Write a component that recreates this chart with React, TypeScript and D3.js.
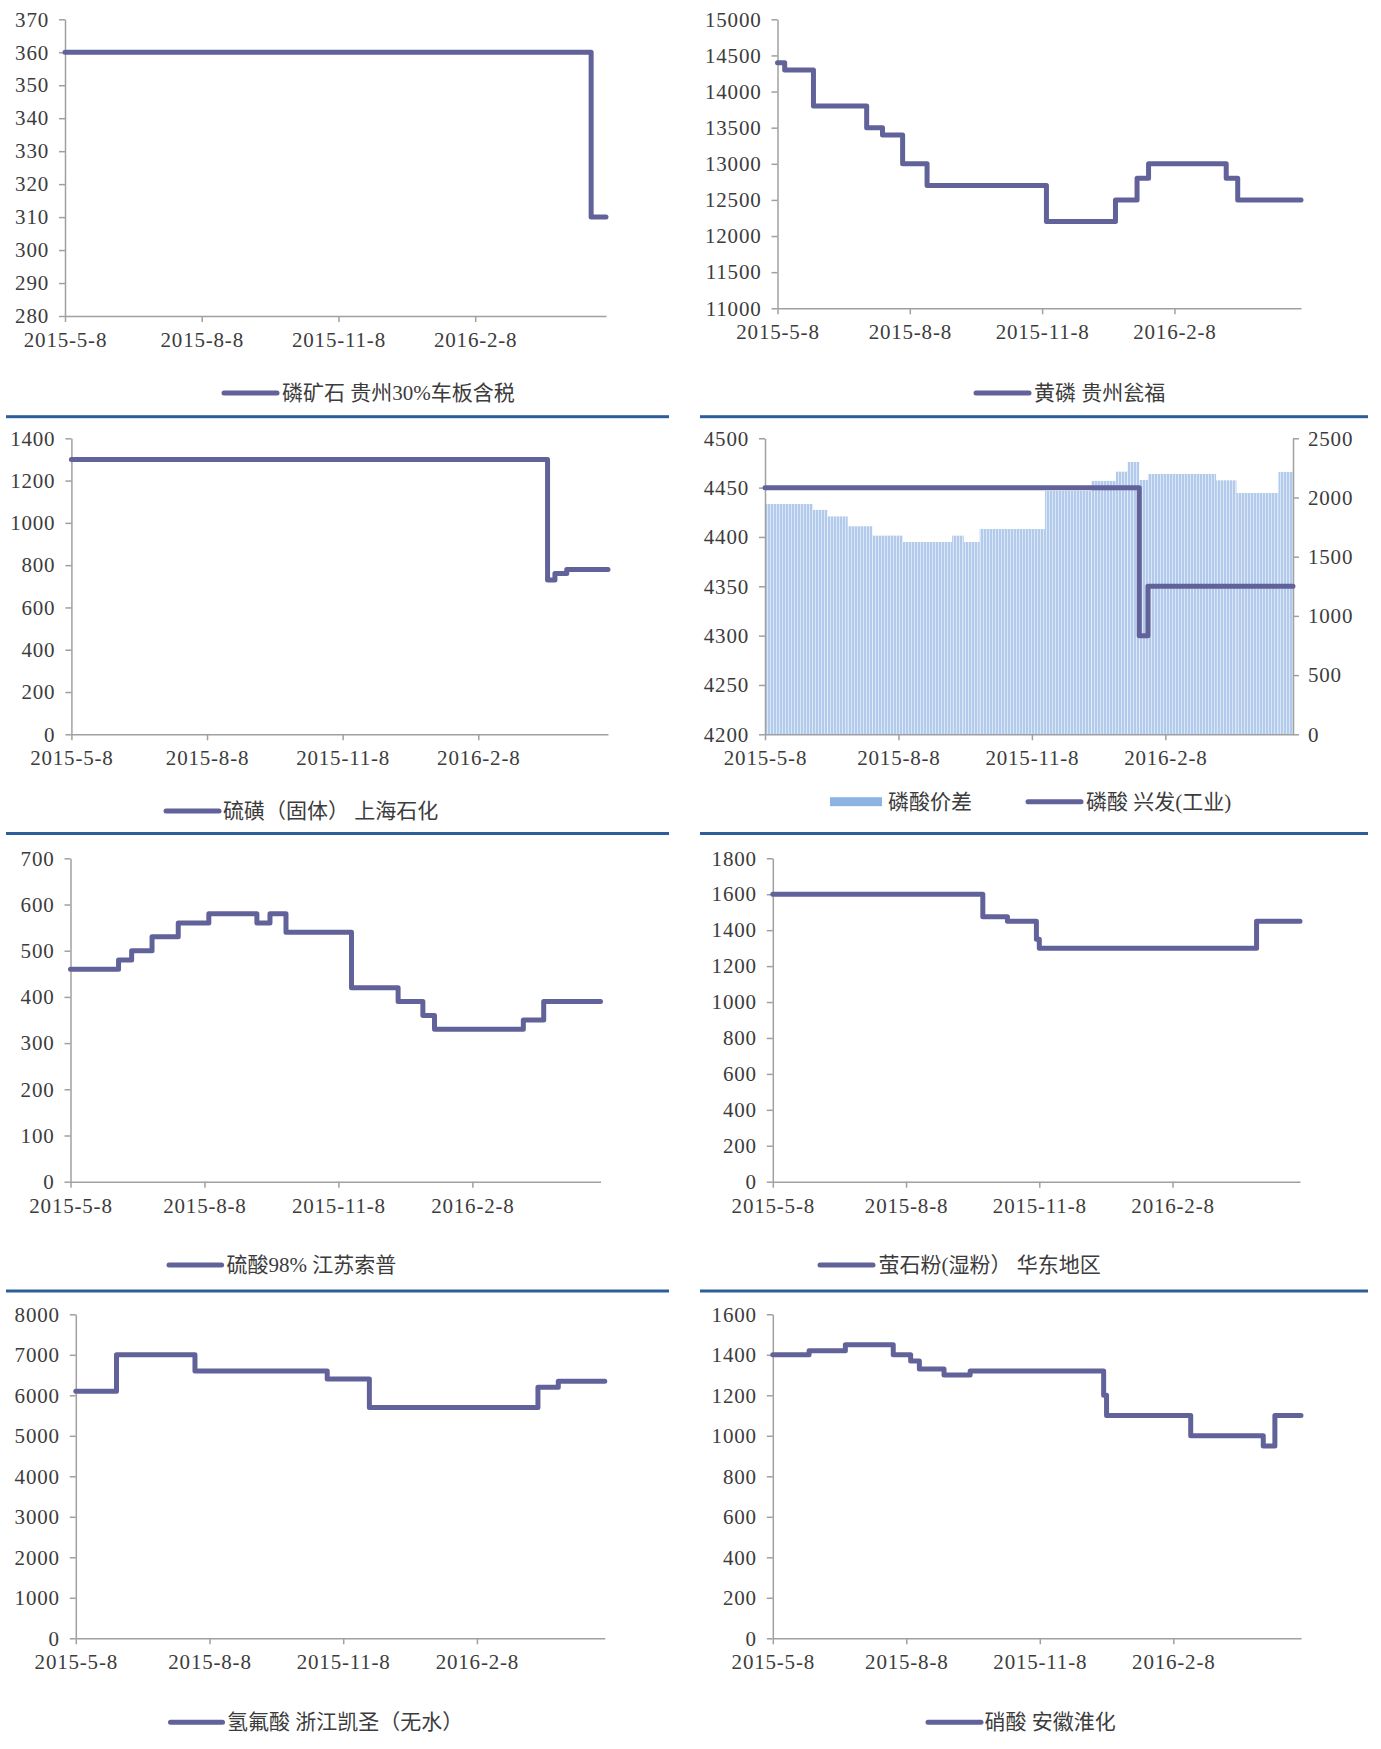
import React, { useEffect, useRef } from "react";
import * as d3 from "d3";

const START = "2015-05-08";
const END = "2016-05-06";
const xTickDates = ["2015-05-08", "2015-08-08", "2015-11-08", "2016-02-08"];
const xTickLabels = ["2015-5-8", "2015-8-8", "2015-11-8", "2016-2-8"];

// 磷矿石 贵州30%车板含税
const rockDates = ["2015-05-08", "2016-04-26", END];
const rockValues = [360, 310, 310];

// 黄磷 贵州瓮福
const yellowPDates = [
  "2015-05-08", "2015-05-13", "2015-06-02", "2015-07-09", "2015-07-20",
  "2015-08-03", "2015-08-20", "2015-11-11", "2015-12-29", "2016-01-13",
  "2016-01-21", "2016-03-15", "2016-03-23", END,
];
const yellowPValues = [
  14400, 14300, 13800, 13500, 13400, 13000, 12700, 12200, 12500, 12800,
  13000, 12800, 12500, 12500,
];

// 硫磺（固体） 上海石化
const sulfurDates = ["2015-05-08", "2016-03-26", "2016-03-31", "2016-04-08", END];
const sulfurValues = [1300, 730, 760, 780, 780];

// 磷酸 兴发(工业)
const acidDates = ["2015-05-08", "2016-01-21", "2016-01-27", END];
const acidValues = [4450, 4300, 4350, 4350];

// 磷酸价差 (bars, right axis)
const spreadDates = [
  "2015-05-08", "2015-06-10", "2015-06-20", "2015-07-04", "2015-07-21",
  "2015-08-11", "2015-09-14", "2015-09-22", "2015-10-03", "2015-11-17",
  "2015-12-19", "2016-01-05", "2016-01-13", "2016-01-21", "2016-01-27",
  "2016-03-14", "2016-03-28", "2016-04-26",
];
const spreadValues = [
  1945, 1895, 1840, 1757, 1678, 1624, 1678, 1624, 1734, 2055,
  2140, 2218, 2300, 2148, 2199, 2145, 2038, 2216,
];

// 硫酸98% 江苏索普
const h2so4Dates = [
  "2015-05-08", "2015-06-10", "2015-06-19", "2015-07-03", "2015-07-21",
  "2015-08-11", "2015-09-13", "2015-09-22", "2015-10-03", "2015-11-17",
  "2015-12-19", "2016-01-05", "2016-01-13", "2016-03-14", "2016-03-28", END,
];
const h2so4Values = [
  460, 480, 500, 530, 560, 580, 560, 580, 540, 420, 390, 360, 330, 350, 390, 390,
];

// 萤石粉(湿粉） 华东地区
const fluorDates = ["2015-05-08", "2015-09-30", "2015-10-17", "2015-11-06", "2015-11-08", "2016-04-06", END];
const fluorValues = [1600, 1475, 1450, 1350, 1300, 1450, 1450];

// 氢氟酸 浙江凯圣（无水）
const hfDates = ["2015-05-08", "2015-06-05", "2015-07-29", "2015-10-28", "2015-11-26", "2016-03-21", "2016-04-04", END];
const hfValues = [6100, 7000, 6600, 6400, 5700, 6200, 6350, 6350];

// 硝酸 安徽淮化
const hno3Dates = [
  "2015-05-08", "2015-06-02", "2015-06-27", "2015-07-30", "2015-08-11",
  "2015-08-17", "2015-09-03", "2015-09-21", "2015-12-22", "2015-12-24",
  "2016-02-20", "2016-04-10", "2016-04-18", END,
];
const hno3Values = [1400, 1420, 1450, 1400, 1370, 1330, 1300, 1320, 1200, 1100, 1000, 950, 1100, 1100];

const LINE_COLOR = "#62629b";
const AXIS_COLOR = "#a0a0a0";
const TEXT_COLOR = "#3c3c3c";
const SEP_COLOR = "#2d5e9a";
const FONT = "'Liberation Serif', 'Noto Sans CJK SC', serif";

const panels = [
  { dates: rockDates, values: rockValues, yMin: 280, yMax: 370, yStep: 10,
    left: 65, right: 606, top: 19.3, bottom: 316,
    legend: "磷矿石 贵州30%车板含税", lx: 224, lx2: 277, tx: 282, ly: 393 },
  { dates: yellowPDates, values: yellowPValues, yMin: 11000, yMax: 15000, yStep: 500,
    left: 777.5, right: 1301, top: 19.3, bottom: 308.3,
    legend: "黄磷  贵州瓮福", lx: 976, lx2: 1029, tx: 1034, ly: 393 },
  { dates: sulfurDates, values: sulfurValues, yMin: 0, yMax: 1400, yStep: 200,
    left: 71.4, right: 608, top: 438.3, bottom: 734.3,
    legend: "硫磺（固体） 上海石化", lx: 166, lx2: 219, tx: 223, ly: 811 },
  { dates: acidDates, values: acidValues, yMin: 4200, yMax: 4500, yStep: 50,
    left: 765, right: 1293, top: 438.3, bottom: 734.3,
    legend: "磷酸  兴发(工业)", lx: 1028, lx2: 1081, tx: 1086, ly: 801.7,
    bars: { dates: spreadDates, values: spreadValues, yMin: 0, yMax: 2500, yStep: 500,
      legend: "磷酸价差", sx: 830, sx2: 882, tx: 888 } },
  { dates: h2so4Dates, values: h2so4Values, yMin: 0, yMax: 700, yStep: 100,
    left: 70.5, right: 600.5, top: 858.3, bottom: 1181.7,
    legend: "硫酸98% 江苏索普", lx: 169, lx2: 221.6, tx: 226.5, ly: 1265 },
  { dates: fluorDates, values: fluorValues, yMin: 0, yMax: 1800, yStep: 200,
    left: 772.8, right: 1300, top: 858.3, bottom: 1181.7,
    legend: "萤石粉(湿粉）  华东地区", lx: 820, lx2: 873, tx: 878.5, ly: 1265 },
  { dates: hfDates, values: hfValues, yMin: 0, yMax: 8000, yStep: 1000,
    left: 75.8, right: 604.8, top: 1314.3, bottom: 1638.3,
    legend: "氢氟酸 浙江凯圣（无水）", lx: 170.5, lx2: 222.5, tx: 227, ly: 1722.3 },
  { dates: hno3Dates, values: hno3Values, yMin: 0, yMax: 1600, yStep: 200,
    left: 772.8, right: 1301, top: 1314.3, bottom: 1638.3,
    legend: "硝酸  安徽淮化", lx: 928, lx2: 981, tx: 984.5, ly: 1722.3 },
];

const separators = [416.7, 833.5, 1291];

const parse = d3.timeParse("%Y-%m-%d");

function styleAxis(g) {
  g.select(".domain").attr("stroke", AXIS_COLOR).attr("stroke-width", 1.5);
  g.selectAll(".tick line").attr("stroke", AXIS_COLOR).attr("stroke-width", 1.5);
  g.selectAll(".tick text")
    .attr("fill", TEXT_COLOR)
    .attr("font-family", FONT)
    .attr("font-size", 21)
    .attr("letter-spacing", 0.8);
}

function drawPanel(svg, p) {
  const x = d3.scaleTime().domain([parse(START), parse(END)]).range([p.left, p.right]);
  const y = d3.scaleLinear().domain([p.yMin, p.yMax]).range([p.bottom, p.top]);
  const g = svg.append("g");

  if (p.bars) {
    const b = p.bars;
    const yR = d3.scaleLinear().domain([b.yMin, b.yMax]).range([p.bottom, p.top]);
    const segs = b.dates.map((d, i) => ({
      x0: x(parse(d)),
      x1: x(parse(b.dates[i + 1] || END)),
      v: b.values[i],
    }));
    g.selectAll("rect.bar")
      .data(segs)
      .enter()
      .append("rect")
      .attr("class", "bar")
      .attr("x", (d) => d.x0)
      .attr("width", (d) => d.x1 - d.x0)
      .attr("y", (d) => yR(d.v))
      .attr("height", (d) => p.bottom - yR(d.v))
      .attr("fill", "url(#stripes)");

    const rAxis = g
      .append("g")
      .attr("transform", `translate(${p.right},0)`)
      .call(
        d3.axisRight(yR)
          .tickValues(d3.range(b.yMin, b.yMax + 1, b.yStep))
          .tickSize(6)
          .tickSizeOuter(0)
          .tickPadding(9)
          .tickFormat(d3.format("d"))
      );
    styleAxis(rAxis);

    g.append("rect")
      .attr("x", b.sx)
      .attr("y", p.ly - 4.5)
      .attr("width", b.sx2 - b.sx)
      .attr("height", 9)
      .attr("fill", "#8db3e2");
    g.append("text")
      .attr("x", b.tx)
      .attr("y", p.ly)
      .attr("dominant-baseline", "central")
      .attr("font-family", FONT)
      .attr("font-size", 21)
      .attr("fill", TEXT_COLOR)
      .text(b.legend);
  }

  const yAxis = g
    .append("g")
    .attr("transform", `translate(${p.left},0)`)
    .call(
      d3.axisLeft(y)
        .tickValues(d3.range(p.yMin, p.yMax + 1, p.yStep))
        .tickSize(6)
        .tickSizeOuter(0)
        .tickPadding(10)
        .tickFormat(d3.format("d"))
    );
  styleAxis(yAxis);

  const xAxis = g
    .append("g")
    .attr("transform", `translate(0,${p.bottom})`)
    .call(
      d3.axisBottom(x)
        .tickValues(xTickDates.map(parse))
        .tickFormat((d, i) => xTickLabels[i])
        .tickSize(6)
        .tickSizeOuter(0)
        .tickPadding(10)
    );
  styleAxis(xAxis);

  const pts = p.dates.map((d, i) => ({ date: parse(d), value: p.values[i] }));
  const line = d3
    .line()
    .x((d) => x(d.date))
    .y((d) => y(d.value))
    .curve(d3.curveStepAfter);
  g.append("path")
    .datum(pts)
    .attr("d", line)
    .attr("fill", "none")
    .attr("stroke", LINE_COLOR)
    .attr("stroke-width", 5)
    .attr("stroke-linejoin", "round")
    .attr("stroke-linecap", "round");

  // legend
  g.append("line")
    .attr("x1", p.lx)
    .attr("x2", p.lx2)
    .attr("y1", p.ly)
    .attr("y2", p.ly)
    .attr("stroke", LINE_COLOR)
    .attr("stroke-width", 5)
    .attr("stroke-linecap", "round");
  g.append("text")
    .attr("x", p.tx)
    .attr("y", p.ly)
    .attr("dominant-baseline", "central")
    .attr("font-family", FONT)
    .attr("font-size", 21)
    .attr("fill", TEXT_COLOR)
    .text(p.legend);
}

export default function App() {
  const ref = useRef(null);

  useEffect(() => {
    const svg = d3.select(ref.current);
    svg.selectAll("*").remove();

    const defs = svg.append("defs");
    const pat = defs
      .append("pattern")
      .attr("id", "stripes")
      .attr("patternUnits", "userSpaceOnUse")
      .attr("width", 3)
      .attr("height", 10);
    pat.append("rect").attr("width", 3).attr("height", 10).attr("fill", "#dce7f6");
    pat.append("rect").attr("width", 2).attr("height", 10).attr("fill", "#b2caec");

    separators.forEach((sy) => {
      svg.append("rect").attr("x", 6).attr("y", sy - 1.5).attr("width", 663).attr("height", 3).attr("fill", SEP_COLOR);
      svg.append("rect").attr("x", 700).attr("y", sy - 1.5).attr("width", 668).attr("height", 3).attr("fill", SEP_COLOR);
    });

    panels.forEach((p) => drawPanel(svg, p));
  }, []);

  return (
    <svg
      ref={ref}
      width={1381}
      height={1749}
      style={{ position: "absolute", left: 0, top: 0, background: "#fff" }}
    />
  );
}
